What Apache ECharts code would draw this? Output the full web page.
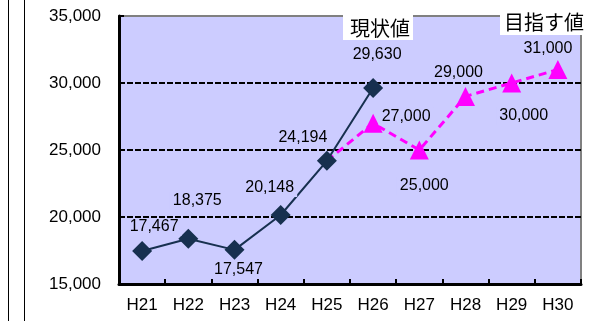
<!DOCTYPE html>
<html>
<head>
<meta charset="utf-8">
<script src="https://cdn.jsdelivr.net/npm/echarts@6/dist/echarts.min.js"></script>
<style>
html,body{margin:0;padding:0;background:#fff;}
#chart{width:611px;height:321px;}
</style>
</head>
<body>
<div id="chart"></div>
<script>
// ---- data ----
const categories = ['H21','H22','H23','H24','H25','H26','H27','H28','H29','H30'];
const actualValues = [17467, 18375, 17547, 20148, 24194, 29630, null, null, null, null];
const targetValues = [null, null, null, null, 24194, 27000, 25000, 29000, 30000, 31000];
const yTicks = [15000, 20000, 25000, 30000, 35000];
const actualName = '現状値';
const targetName = '目指す値';

// ---- label layout (offset of label centre from marker centre) ----
const actualLabelOffsets = [[12,-24],[9,-38],[4,20],[-11,-27],[-24,-23],[4,-33]];
const targetLabelOffsets = {5:[33,-7],6:[5,36],7:[-7,-24],8:[12,33],9:[-10,-21]};

const fmt = v => Number(v).toLocaleString('en-US');
const numFont = '"Liberation Sans", Arial, sans-serif';
const cjkFont = '"Noto Sans CJK JP", sans-serif';

const labelBase = {
  show: true,
  position: 'inside',
  fontFamily: numFont,
  fontSize: 16,
  color: '#000',
  backgroundColor: '#ccccff',
  padding: [1, 3],
  formatter: p => fmt(p.value)
};

const actualData = actualValues.map((v, i) => {
  if (v == null) return null;
  const off = actualLabelOffsets[i] || [0, -20];
  return { value: v, label: Object.assign({}, labelBase, { offset: off }) };
});

let firstTarget = targetValues.findIndex(v => v != null);
const targetData = targetValues.map((v, i) => {
  if (v == null) return null;
  if (i === firstTarget) return { value: v, symbol: 'none', label: { show: false } };
  const off = targetLabelOffsets[i] || [0, -20];
  return { value: v, label: Object.assign({}, labelBase, { offset: off }) };
});

const chart = echarts.init(document.getElementById('chart'), null, { renderer: 'canvas' });
chart.setOption({
  animation: false,
  backgroundColor: '#fff',
  grid: {
    left: 119, right: 30, top: 16, bottom: 37,
    show: true, backgroundColor: '#ccccff', borderColor: '#808080', borderWidth: 2
  },
  xAxis: {
    type: 'category',
    data: categories,
    boundaryGap: true,
    axisLine: { show: true, lineStyle: { color: '#000', width: 3 } },
    axisTick: { show: true, inside: true, length: 5, lineStyle: { color: '#000', width: 2 } },
    axisLabel: { color: '#000', fontSize: 17, fontFamily: numFont, margin: 13 },
    splitLine: { show: false }
  },
  yAxis: {
    type: 'value',
    min: yTicks[0],
    max: yTicks[yTicks.length - 1],
    interval: yTicks[1] - yTicks[0],
    axisLine: { show: true, lineStyle: { color: '#000', width: 3 } },
    axisTick: { show: true, inside: true, length: 5, lineStyle: { color: '#000', width: 2 } },
    axisLabel: { color: '#000', fontSize: 17, fontFamily: numFont, margin: 18, formatter: v => fmt(v) },
    splitLine: {
      show: true, showMinLine: false, showMaxLine: false,
      lineStyle: { color: '#000', type: [6, 2], width: 2 }
    }
  },
  series: [
    {
      name: targetName,
      type: 'line',
      data: targetData,
      connectNulls: false,
      symbol: 'triangle',
      symbolSize: 19,
      itemStyle: { color: '#ff00ff' },
      lineStyle: { color: '#ff00ff', width: 3, type: [8, 5] },
      z: 2
    },
    {
      name: actualName,
      type: 'line',
      data: actualData,
      connectNulls: false,
      symbol: 'diamond',
      symbolSize: 20,
      itemStyle: { color: '#17304f' },
      lineStyle: { color: '#17304f', width: 2 },
      z: 3
    }
  ],
  graphic: [
    { type: 'line', shape: { x1: 8.5, y1: 0, x2: 8.5, y2: 321 }, style: { stroke: '#000', lineWidth: 1 }, z: 10 },
    { type: 'line', shape: { x1: 24.5, y1: 0, x2: 24.5, y2: 321 }, style: { stroke: '#000', lineWidth: 1 }, z: 10 },
    { type: 'rect', shape: { x: 343, y: 15, width: 70, height: 25 }, style: { fill: '#fff' }, z: 10 },
    { type: 'text', x: 380, y: 28, style: { text: actualName, fill: '#000', font: '20px ' + cjkFont, textAlign: 'center', textVerticalAlign: 'middle' }, z: 11 },
    { type: 'rect', shape: { x: 500, y: 6, width: 83, height: 29 }, style: { fill: '#fff' }, z: 10 },
    { type: 'text', x: 544, y: 22, style: { text: targetName, fill: '#000', font: '20px ' + cjkFont, textAlign: 'center', textVerticalAlign: 'middle' }, z: 11 }
  ]
});
</script>
</body>
</html>
